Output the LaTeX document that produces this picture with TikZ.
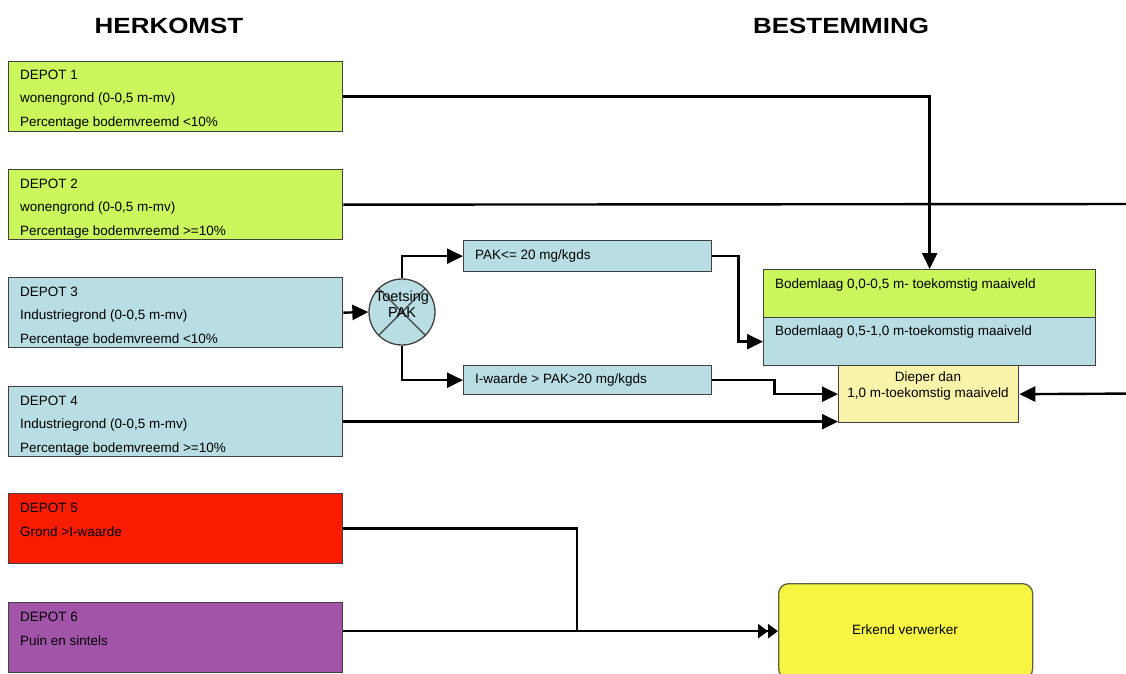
\documentclass[tikz,border=0pt]{standalone}
\usepackage{fontspec}
\setmainfont{Liberation Sans}
\usetikzlibrary{arrows.meta,calc}
\definecolor{cgreen}{RGB}{204,247,92}
\definecolor{cblue}{RGB}{184,222,228}
\definecolor{cred}{RGB}{248,28,0}
\definecolor{cpurple}{RGB}{162,84,168}
\definecolor{cyellow}{RGB}{245,245,66}
\definecolor{cpale}{RGB}{250,243,170}
\begin{document}
\begin{tikzpicture}[x=1pt,y=-1pt,
  box/.style={draw=black!75, line width=1.3pt, rectangle, inner sep=0pt, anchor=north west},
  depotbox/.style={box, minimum width=334pt, minimum height=70pt},
  txt/.style={anchor=west, inner sep=0pt, font=\fontsize{13.5}{15}\selectfont},
  title/.style={inner sep=0pt, font=\fontsize{22}{26}\selectfont\bfseries},
  conn/.style={draw=black, line width=2.4pt},
  arr/.style={conn, -{Triangle[length=16pt,width=15pt]}},
  darr/.style={conn, -{Triangle[length=10pt,width=14pt]Triangle[length=10pt,width=14pt]}}
]
\useasboundingbox (0,0) rectangle (1126,673);
\clip (0,0) rectangle (1126,673);

% titles
\node[title] (t1) at (169,26) {\scalebox{1.18}[1]{HERKOMST}};
\node[title] (t2) at (841,26) {\scalebox{1.18}[1]{BESTEMMING}};

% depots
\node[depotbox, fill=cgreen] (d1) at (8,61) {};
\node[txt] (d1a) at (20,75) {DEPOT 1};
\node[txt] (d1b) at (20,99) {wonengrond (0-0,5 m-mv)};
\node[txt] (d1c) at (20,123) {Percentage bodemvreemd <10\%};

\node[depotbox, fill=cgreen] (d2) at (8,169) {};
\node[txt] (d2a) at (20,184) {DEPOT 2};
\node[txt] (d2b) at (20,208) {wonengrond (0-0,5 m-mv)};
\node[txt] (d2c) at (20,232) {Percentage bodemvreemd >=10\%};

\node[depotbox, fill=cblue] (d3) at (8,277) {};
\node[txt] (d3a) at (20,292) {DEPOT 3};
\node[txt] (d3b) at (20,316) {Industriegrond (0-0,5 m-mv)};
\node[txt] (d3c) at (20,340) {Percentage bodemvreemd <10\%};

\node[depotbox, fill=cblue] (d4) at (8,386) {};
\node[txt] (d4a) at (20,401) {DEPOT 4};
\node[txt] (d4b) at (20,425) {Industriegrond (0-0,5 m-mv)};
\node[txt] (d4c) at (20,449) {Percentage bodemvreemd >=10\%};

\node[depotbox, fill=cred] (d5) at (8,493) {};
\node[txt] (d5a) at (20,508) {DEPOT 5};
\node[txt] (d5b) at (20,532) {Grond >I-waarde};

\node[depotbox, fill=cpurple] (d6) at (8,602) {};
\node[txt] (d6a) at (20,617) {DEPOT 6};
\node[txt] (d6b) at (20,641) {Puin en sintels};

% toetsing
\node[draw=black!75, line width=1.3pt, circle, fill=cblue, minimum size=66pt, inner sep=0pt] (c) at (402,312) {};
\draw[black!75, line width=1.3pt] (c.north west) -- (c.south east) (c.north east) -- (c.south west);
\node[inner sep=0pt, align=center, font=\fontsize{14.5}{16}\selectfont] (ct) at (402,304) {Toetsing\\PAK};

% PAK boxes
\node[box, fill=cblue, minimum width=248pt, minimum height=31pt] (p1) at (463,240) {};
\node[txt] (p1t) at (475,256) {PAK<= 20 mg/kgds};
\node[box, fill=cblue, minimum width=248pt, minimum height=29pt] (p2) at (463,365) {};
\node[txt] (p2t) at (475,380) {I-waarde > PAK>20 mg/kgds};

% bestemming
\node[box, fill=cgreen, minimum width=332pt, minimum height=48pt] (bt) at (763,269) {};
\node[txt] (btt) at (775,285) {Bodemlaag 0,0-0,5 m- toekomstig maaiveld};
\node[box, fill=cblue, minimum width=332pt, minimum height=48pt] (bb) at (763,317) {};
\node[txt] (bbt) at (775,332) {Bodemlaag 0,5-1,0 m-toekomstig maaiveld};
\node[box, fill=cpale, minimum width=180pt, minimum height=57pt] (dp) at (838,365) {};
\node[inner sep=0pt, align=center, font=\fontsize{13.5}{16}\selectfont] (dpt) at (928,386) {Dieper dan\\1,0 m-toekomstig maaiveld};

\node[draw=black!70!yellow, line width=1.3pt, rounded corners=10pt, fill=cyellow, minimum width=254pt, minimum height=95pt, inner sep=0pt, anchor=north west] (er) at (778,583) {};
\node[inner sep=0pt, font=\fontsize{13.5}{15}\selectfont] (ert) at (905,630) {Erkend verwerker};

% connectors
\coordinate (r2) at (1140,204);
\coordinate (r3) at (1140,393.5);
\coordinate (jn) at (577,630.5);

\draw[arr] (d1.east) -| (bt.north);
\draw[arr] (d2.east) -- (r2) -- (r3) -- (dp.east);
\draw[arr] (d3.east) -- (c.west);
\draw[arr] (c.north) |- (p1.west);
\draw[arr] (c.south) |- (p2.west);
\draw[arr] (p1.east) -- ++(26,0) |- (bb.west);
\draw[arr] (p2.east) -- ++(62,0) |- (dp.west);
\draw[arr] (d4.east) -- (d4.east -| dp.west);
\draw[conn] (d5.east) -| (jn);
\draw[darr] (d6.east |- er.west) -- (er.west);
\end{tikzpicture}
\end{document}
